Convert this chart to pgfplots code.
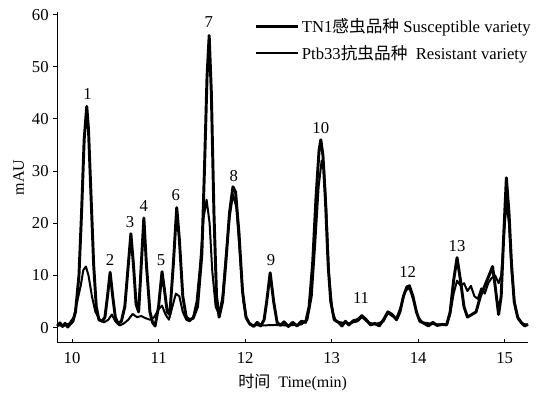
\documentclass[border=0pt]{standalone}
\usepackage{pgfplots}
\pgfplotsset{compat=1.18}
\usetikzlibrary{calc}
\usepackage{fontspec}
\setmainfont{Liberation Serif}
\newfontfamily\cjk{Noto Sans CJK SC}
\begin{document}
\begin{tikzpicture}
\begin{axis}[
  scale only axis,
  width=353pt, height=248pt,
  xmin=9.83, xmax=15.27,
  ymin=-2.9, ymax=60.5,
  axis x line*=bottom, axis y line*=left,
  axis line style={line width=0.9pt},
  xtick={10,11,12,13,14,15},
  ytick={0,10,20,30,40,50,60},
  x tick style={black, line width=0.7pt}, y tick style={black, line width=0.7pt},
  major tick length=3pt,
  xtick align=inside, ytick align=outside,
  tick label style={font=\fontsize{12.5}{14}\selectfont},
  xticklabel style={yshift=-4pt},
  /pgf/number format/assume math mode=true,
  ylabel={mAU}, ylabel style={font=\fontsize{12}{14}\selectfont, yshift=-1pt},
  xlabel={{\cjk 时间}\ \ Time(min)}, xlabel style={font=\fontsize{12}{14}\selectfont, yshift=-1pt},
  legend style={draw=none, fill=none, at={(0.41,0.997)}, anchor=north west,
    font=\fontsize{12.5}{14}\selectfont, row sep=4pt},
  legend image code/.code={\draw[#1] (0cm,0cm) -- (1.1cm,0cm);},
  legend cell align=left,
  clip=false,
]
\addplot[black, line width=2.2pt, line join=round] coordinates {
(9.83,0.3)(9.86,0.9)(9.89,0.2)(9.92,0.8)(9.95,0.1)(9.98,0.7)(10.01,1.2)(10.04,3)(10.08,10)(10.11,22)(10.14,36)(10.17,42.4)(10.19,38)(10.22,25)(10.25,12)(10.28,4)(10.31,1.5)(10.35,1.2)(10.38,2)(10.41,6)(10.44,10.6)(10.47,6)(10.50,2)(10.53,0.8)(10.57,1.2)(10.61,4)(10.64,10)(10.68,18)(10.71,12)(10.74,4.5)(10.77,3)(10.80,12)(10.83,21)(10.86,12)(10.90,3)(10.93,1)(10.96,0.3)(11.00,4)(11.04,10.7)(11.07,7)(11.10,3)(11.13,2.5)(11.17,12)(11.21,23)(11.24,17)(11.28,6)(11.32,2)(11.36,1.5)(11.40,1.8)(11.45,4)(11.50,14)(11.53,30)(11.56,48)(11.585,56)(11.61,45)(11.64,22)(11.67,6)(11.70,2)(11.74,5)(11.78,13)(11.82,22)(11.86,27)(11.89,26)(11.93,18)(11.97,7)(12.01,2)(12.05,0.8)(12.10,0.2)(12.14,1.0)(12.18,0.3)(12.22,1.5)(12.25,5)(12.29,10.5)(12.33,5)(12.37,1)(12.41,0.4)(12.45,1.1)(12.50,0.2)(12.55,1.0)(12.60,0.3)(12.65,1.2)(12.70,1)(12.74,4)(12.78,12)(12.82,25)(12.855,34)(12.875,36)(12.90,33)(12.93,24)(12.96,12)(12.99,5)(13.03,1.5)(13.08,1)(13.12,0.3)(13.16,1.2)(13.20,0.5)(13.25,1.3)(13.30,1.5)(13.35,2.3)(13.40,1.5)(13.45,0.5)(13.50,0.8)(13.55,0.3)(13.60,1.5)(13.65,3)(13.70,2.5)(13.75,1.5)(13.79,3)(13.83,6)(13.87,7.8)(13.90,8)(13.94,6)(13.98,3)(14.02,1.2)(14.07,0.8)(14.12,0.3)(14.17,1.0)(14.22,0.4)(14.28,0.6)(14.33,0.5)(14.37,3)(14.41,9)(14.45,13.4)(14.49,9)(14.53,4)(14.57,2)(14.62,2.5)(14.67,3)(14.72,6)(14.77,8)(14.82,10)(14.86,11.7)(14.89,8)(14.93,2.5)(14.96,6)(14.99,18)(15.02,28.7)(15.05,22)(15.08,12)(15.11,5)(15.15,2)(15.19,1)(15.23,0.3)(15.27,0.6)
};
\addlegendentry{TN1{\cjk 感虫品种} Susceptible variety}
\addplot[black, line width=1.5pt, line join=round] coordinates {
(9.83,0.5)(9.90,0.3)(9.97,0.8)(10.02,2)(10.06,5)(10.10,8)(10.13,11)(10.16,11.7)(10.19,10)(10.23,6)(10.27,3)(10.32,1.5)(10.37,1)(10.42,1.5)(10.46,2.5)(10.50,1.2)(10.55,0.4)(10.60,0.8)(10.65,1.5)(10.70,2.6)(10.75,2)(10.80,2.2)(10.85,1.8)(10.90,1.5)(10.95,2)(11.00,3.5)(11.04,4.2)(11.08,2.5)(11.12,1.5)(11.16,4)(11.20,6.5)(11.24,6)(11.28,3)(11.32,1.5)(11.36,1.2)(11.40,2)(11.44,5)(11.48,12)(11.52,21)(11.555,24.5)(11.59,20)(11.62,11)(11.66,4)(11.70,2.5)(11.74,6)(11.78,14)(11.82,21)(11.86,25.5)(11.90,23)(11.94,14)(11.98,5)(12.02,1.5)(12.06,0.5)(12.20,0.4)(12.35,0.5)(12.50,0.4)(12.65,0.6)(12.72,1.5)(12.77,6)(12.81,16)(12.85,27)(12.885,32)(12.91,31)(12.94,22)(12.97,10)(13.01,3)(13.05,1.2)(13.10,1)(13.20,0.8)(13.30,1.2)(13.35,2)(13.42,1)(13.50,0.6)(13.60,1.2)(13.65,2.8)(13.70,2.2)(13.75,1.8)(13.80,4)(13.85,7)(13.90,7.6)(13.95,5)(14.00,2)(14.05,1)(14.20,0.6)(14.33,0.6)(14.37,2.5)(14.41,6.5)(14.45,9)(14.49,8)(14.53,8.5)(14.57,7)(14.61,8)(14.65,6)(14.69,5.5)(14.73,7.5)(14.77,6.5)(14.81,8.5)(14.85,9.5)(14.89,10)(14.93,8.5)(14.96,10)(14.99,17)(15.02,24)(15.05,20)(15.08,11)(15.12,4)(15.16,1.5)(15.20,0.8)(15.27,0.5)
};
\addlegendentry{Ptb33{\cjk 抗虫品种}\ \ Resistant variety}
\begin{scope}[font=\fontsize{12.5}{14}\selectfont, inner sep=1.5pt]
\node[anchor=south] at (axis cs:10.18,43.3) {1};
\node[anchor=south] at (axis cs:10.44,11.5) {2};
\node[anchor=south] at (axis cs:10.67,18.8) {3};
\node[anchor=south] at (axis cs:10.83,21.8) {4};
\node[anchor=south] at (axis cs:11.03,11.5) {5};
\node[anchor=south] at (axis cs:11.20,23.8) {6};
\node[anchor=south] at (axis cs:11.58,57) {7};
\node[anchor=south] at (axis cs:11.87,27.5) {8};
\node[anchor=south] at (axis cs:12.30,11.5) {9};
\node[anchor=south] at (axis cs:12.875,36.8) {10};
\node[anchor=south] at (axis cs:13.34,4.2) {11};
\node[anchor=south] at (axis cs:13.88,9.2) {12};
\node[anchor=south] at (axis cs:14.45,14.2) {13};
\end{scope}
\end{axis}
\pgfresetboundingbox
\useasboundingbox ($(current axis.south west)+(-43pt,-38pt)$) rectangle ($(current axis.north east)+(12pt,9pt)$);
\end{tikzpicture}
\end{document}
